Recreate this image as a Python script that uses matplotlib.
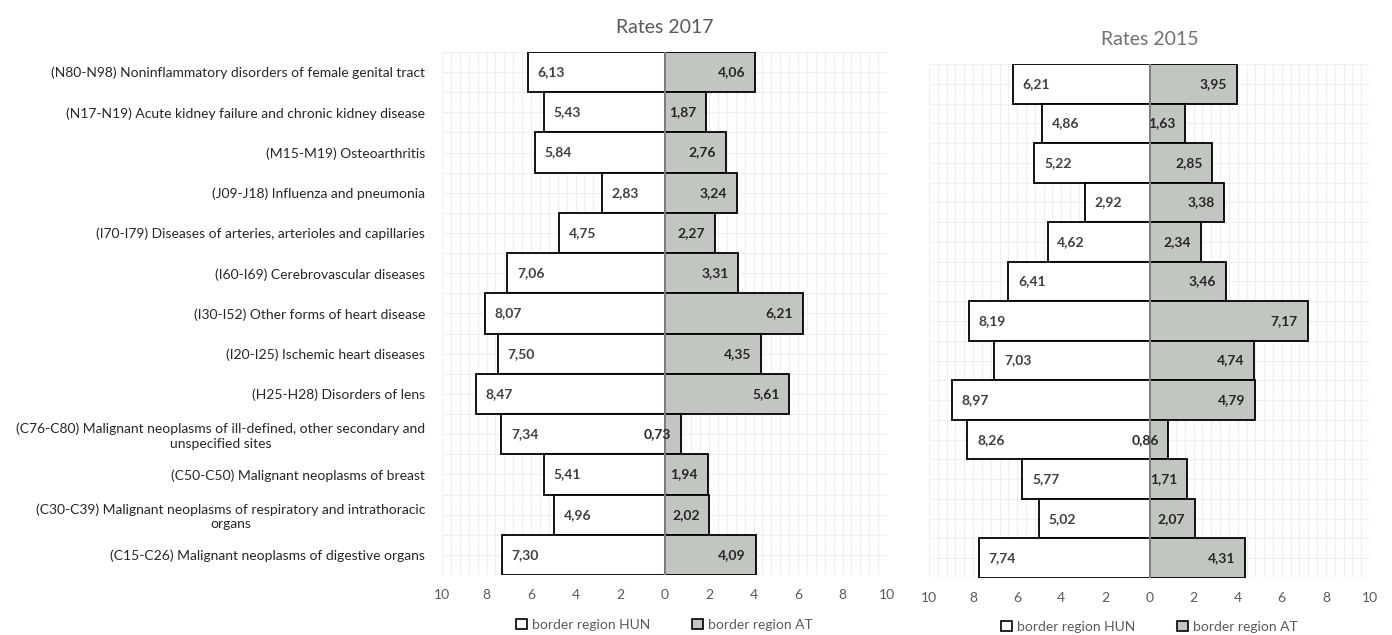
import numpy as np
import matplotlib
matplotlib.use("Agg")
import matplotlib.pyplot as plt
from matplotlib.patches import Patch

plt.rcParams['font.family'] = ['Lato', 'DejaVu Sans']

categories = [
    "(N80-N98) Noninflammatory disorders of female genital tract",
    "(N17-N19) Acute kidney failure and chronic kidney disease",
    "(M15-M19) Osteoarthritis",
    "(J09-J18) Influenza and pneumonia",
    "(I70-I79) Diseases of arteries, arterioles and capillaries",
    "(I60-I69) Cerebrovascular diseases",
    "(I30-I52) Other forms of heart disease",
    "(I20-I25) Ischemic heart diseases",
    "(H25-H28) Disorders of lens",
    "(C76-C80) Malignant neoplasms of ill-defined, other secondary and\nunspecified sites",
    "(C50-C50) Malignant neoplasms of breast",
    "(C30-C39) Malignant neoplasms of respiratory and intrathoracic\norgans",
    "(C15-C26) Malignant neoplasms of digestive organs",
]

hun_2017 = [6.13, 5.43, 5.84, 2.83, 4.75, 7.06, 8.07, 7.50, 8.47, 7.34, 5.41, 4.96, 7.30]
at_2017 = [4.06, 1.87, 2.76, 3.24, 2.27, 3.31, 6.21, 4.35, 5.61, 0.73, 1.94, 2.02, 4.09]
hun_2015 = [6.21, 4.86, 5.22, 2.92, 4.62, 6.41, 8.19, 7.03, 8.97, 8.26, 5.77, 5.02, 7.74]
at_2015 = [3.95, 1.63, 2.85, 3.38, 2.34, 3.46, 7.17, 4.74, 4.79, 0.86, 1.71, 2.07, 4.31]

xticks = [-10, -8, -6, -4, -2, 0, 2, 4, 6, 8, 10]
xtick_labels = ["10", "8", "6", "4", "2", "0", "2", "4", "6", "8", "10"]

W, H = 1392, 635
AT_COLOR = "#c2c6c1"
LABEL_COLOR = "#404040"
TICK_COLOR = "#595959"

fig = plt.figure(figsize=(W / 100, H / 100), dpi=100)


def px_axes(x0, y0, x1, y1):
    return fig.add_axes([x0 / W, 1 - y1 / H, (x1 - x0) / W, (y1 - y0) / H])


def fmt(v):
    return f"{v:.2f}".replace(".", ",")


def pyramid(ax, hun, at, title, title_color, title_pad, show_labels, legend_y):
    n = len(hun)
    y = np.arange(n)
    ax.set_xlim(-10, 10)
    ax.set_ylim(n - 0.5, -0.5)

    for gx in np.arange(-10, 10.001, 0.4):
        ax.axvline(gx, color="#f0f0f0", lw=0.9, zorder=0)
    for gy in np.arange(-0.5, n - 0.49, 0.5):
        ax.axhline(gy, color="#f0f0f0", lw=0.9, zorder=0)

    ax.barh(y, [-v for v in hun], height=1.0, color="white",
            edgecolor="black", linewidth=1.3, zorder=2)
    ax.barh(y, at, height=1.0, color=AT_COLOR,
            edgecolor="black", linewidth=1.3, zorder=2)
    ax.axvline(0, color="#8a8a8a", lw=1.3, zorder=3)

    for yi, v in zip(y, hun):
        ax.annotate(fmt(v), (-v, yi), xytext=(7, 0), textcoords="offset points",
                    ha="left", va="center", fontsize=10, fontweight="bold",
                    color=LABEL_COLOR, zorder=4)
    for yi, v in zip(y, at):
        ax.annotate(fmt(v), (v, yi), xytext=(-7, 0), textcoords="offset points",
                    ha="right", va="center", fontsize=10, fontweight="bold",
                    color="#262626", zorder=4)

    ax.set_xticks(xticks)
    ax.set_xticklabels(xtick_labels, fontsize=10, color=TICK_COLOR)
    ax.tick_params(axis="x", length=0, pad=10)
    if show_labels:
        ax.set_yticks(y)
        ax.set_yticklabels(categories, fontsize=10, color="#262626",
                           multialignment="center", linespacing=1.25)
        ax.tick_params(axis="y", length=0, pad=12)
    else:
        ax.set_yticks([])
    for s in ax.spines.values():
        s.set_visible(False)

    ax.set_title(title, fontsize=14, color=title_color, pad=title_pad)

    handles = [Patch(facecolor="white", edgecolor="black", linewidth=1.2),
               Patch(facecolor=AT_COLOR, edgecolor="black", linewidth=1.2)]
    ax.legend(handles, ["border region HUN", "border region AT"],
              loc="center", bbox_to_anchor=(0.5, legend_y), ncol=2,
              frameon=False, fontsize=10, handlelength=0.75, handleheight=0.75,
              handletextpad=0.4, columnspacing=3.0, labelcolor=TICK_COLOR)


ax1 = px_axes(442, 52, 887, 575)
pyramid(ax1, hun_2017, at_2017, "Rates 2017", "#595959", 14, True, -0.095)

ax2 = px_axes(929, 64, 1370, 578)
pyramid(ax2, hun_2015, at_2015, "Rates 2015", "#6b746e", 14, False, -0.095)

fig.savefig("out.png", dpi=100, facecolor="white")
